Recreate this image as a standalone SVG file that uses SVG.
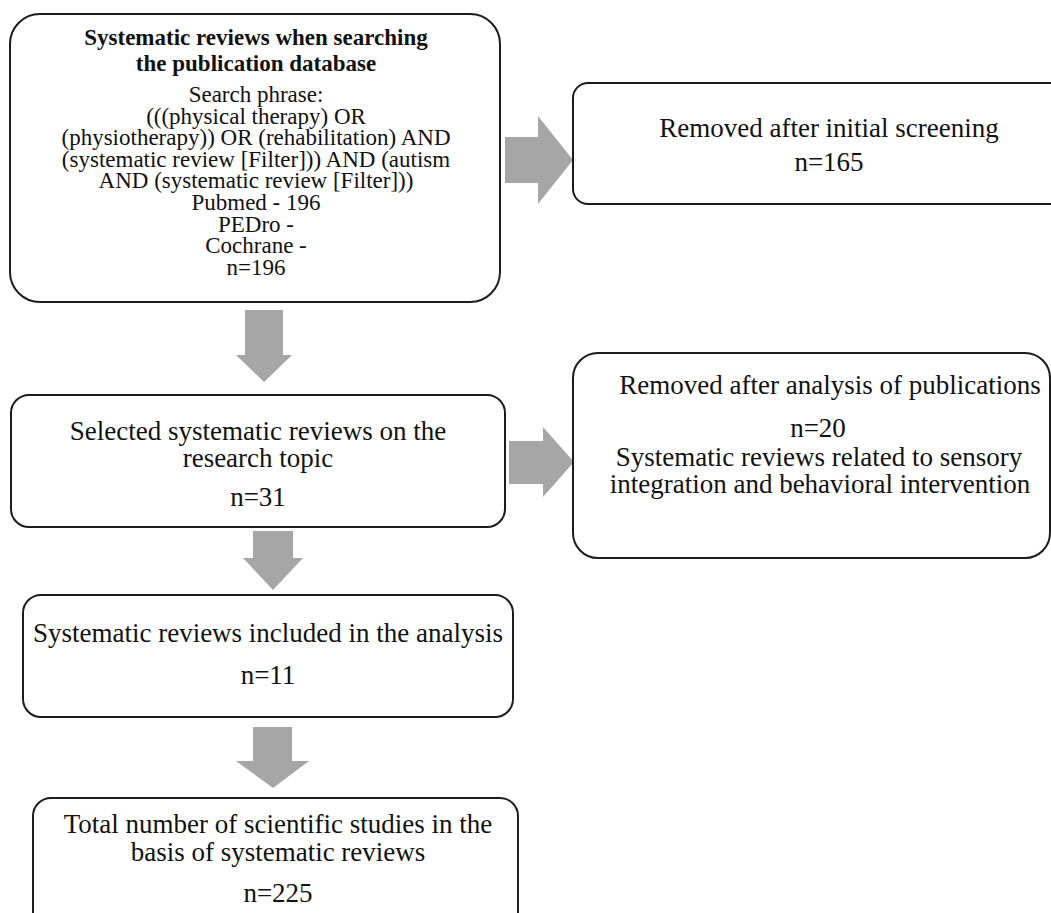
<svg xmlns="http://www.w3.org/2000/svg" width="1051" height="913" viewBox="0 0 1051 913">
<style>
.box{fill:#fff;stroke:#1c1c1c;stroke-width:2}
.arr{fill:#a6a6a6;stroke:none}
.t{font-family:"Liberation Serif","Times New Roman",serif;font-size:27px;fill:#111;text-anchor:middle}
.s{font-family:"Liberation Serif","Times New Roman",serif;font-size:23px;fill:#111;text-anchor:middle}
.b{font-weight:bold}
</style>
<rect width="1051" height="913" fill="#fff"/>
<g id="connectors">
<polygon class="arr" points="505,137 538,137 538,116 573,160 538,204 538,183 505,183"/>
<polygon class="arr" points="245,310 283,310 283,355 292,355 264,382 236,355 245,355"/>
<polygon class="arr" points="509,441 543,441 543,427 574,462 543,497 543,484 509,484"/>
<polygon class="arr" points="253,531 293,531 293,558 303,558 273,590 243,558 253,558"/>
<polygon class="arr" points="253,727 292,727 292,761 309,761 273,788 236,761 253,761"/>
</g>
<g id="search">
<rect class="box" x="10" y="14" width="490" height="288" rx="30"/>
<text class="s b" x="256" y="45">Systematic reviews when searching</text>
<text class="s b" x="256" y="71">the publication database</text>
<text class="s" x="256" y="102">Search phrase:</text>
<text class="s" x="256" y="124">(((physical therapy) OR</text>
<text class="s" x="256" y="145">(physiotherapy)) OR (rehabilitation) AND</text>
<text class="s" x="256" y="167">(systematic review [Filter])) AND (autism</text>
<text class="s" x="256" y="188">AND (systematic review [Filter]))</text>
<text class="s" x="256" y="210">Pubmed - 196</text>
<text class="s" x="256" y="232">PEDro -</text>
<text class="s" x="256" y="253">Cochrane -</text>
<text class="s" x="256" y="275">n=196</text>
</g>
<g id="removed-initial">
<rect class="box" x="573" y="83" width="500" height="121" rx="15"/>
<text class="t" x="829" y="137">Removed after initial screening</text>
<text class="t" x="829" y="171">n=165</text>
</g>
<g id="selected">
<rect class="box" x="11" y="395" width="494" height="132" rx="18"/>
<text class="t" x="258" y="440">Selected systematic reviews on the</text>
<text class="t" x="258" y="467">research topic</text>
<text class="t" x="258" y="506">n=31</text>
</g>
<g id="removed-analysis">
<rect class="box" x="573" y="353" width="477" height="205" rx="25"/>
<text class="t" x="830" y="394">Removed after analysis of publications</text>
<text class="t" x="818" y="437">n=20</text>
<text class="t" x="819" y="466">Systematic reviews related to sensory</text>
<text class="t" x="820" y="493">integration and behavioral intervention</text>
</g>
<g id="included">
<rect class="box" x="23" y="595" width="490" height="122" rx="18"/>
<text class="t" x="268" y="642">Systematic reviews included in the analysis</text>
<text class="t" x="268" y="684">n=11</text>
</g>
<g id="total">
<rect class="box" x="33" y="798" width="485" height="140" rx="18"/>
<text class="t" x="278" y="833">Total number of scientific studies in the</text>
<text class="t" x="278" y="861">basis of systematic reviews</text>
<text class="t" x="278" y="902">n=225</text>
</g>
</svg>
